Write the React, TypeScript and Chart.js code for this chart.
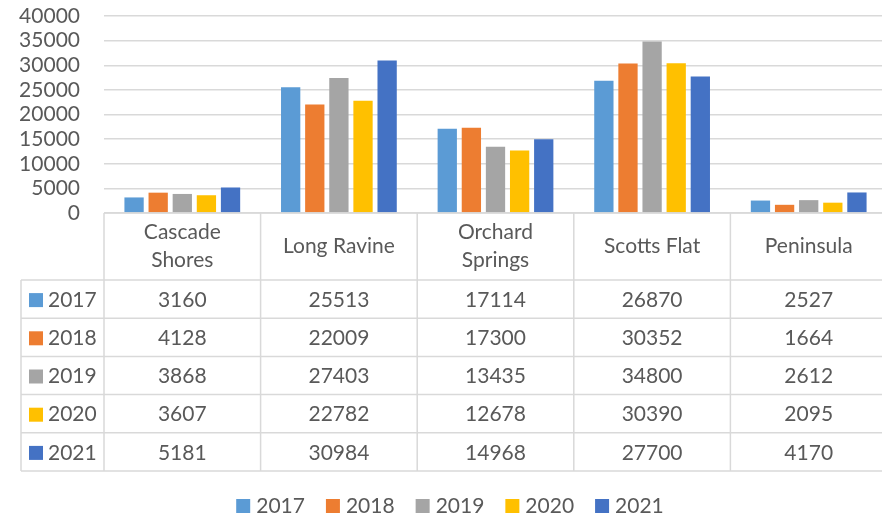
import React, { useEffect, useRef } from "react";
import { Chart, registerables } from "chart.js";

Chart.register(...registerables);

const categories: string[][] = [
  ["Cascade", "Shores"],
  ["Long Ravine"],
  ["Orchard", "Springs"],
  ["Scotts Flat"],
  ["Peninsula"],
];
const years = ["2017", "2018", "2019", "2020", "2021"];
const values2017 = [3160, 25513, 17114, 26870, 2527];
const values2018 = [4128, 22009, 17300, 30352, 1664];
const values2019 = [3868, 27403, 13435, 34800, 2612];
const values2020 = [3607, 22782, 12678, 30390, 2095];
const values2021 = [5181, 30984, 14968, 27700, 4170];
const seriesValues = [values2017, values2018, values2019, values2020, values2021];
const colors = ["#5B9BD5", "#ED7D31", "#A5A5A5", "#FFC000", "#4472C4"];
const yMin = 0;
const yMax = 40000;
const yStep = 5000;

const FONT = "21px Lato";
const TEXT = "#595959";
const LINE = "#d9d9d9";

const tablePlugin = {
  id: "dataTable",
  afterDraw(chart: any) {
    const ctx = chart.ctx as CanvasRenderingContext2D;
    const area = chart.chartArea;
    const xs = chart.scales.x;
    const n = categories.length;
    const catW = (area.right - area.left) / n;
    const top = area.bottom;
    const headerH = 67;
    const rowH = 38.2;
    const tableLeft = 21;
    const bodyTop = top + headerH;
    const bottom = bodyTop + rowH * years.length;
    const right = area.right;

    ctx.save();
    ctx.strokeStyle = LINE;
    ctx.lineWidth = 1.5;
    const line = (x1: number, y1: number, x2: number, y2: number) => {
      ctx.beginPath();
      ctx.moveTo(x1, y1);
      ctx.lineTo(x2, y2);
      ctx.stroke();
    };
    line(area.left, top, right, top);
    for (let i = 0; i <= years.length; i++) {
      const y = bodyTop + i * rowH;
      line(tableLeft, y, right, y);
    }
    for (let k = 0; k < n; k++) {
      const c = xs.getPixelForValue(k);
      line(c - catW / 2, top, c - catW / 2, bottom);
      if (k === n - 1) line(c + catW / 2, top, c + catW / 2, bottom);
    }
    line(tableLeft, bodyTop, tableLeft, bottom);

    ctx.font = FONT;
    ctx.fillStyle = TEXT;
    ctx.textAlign = "center";
    ctx.textBaseline = "middle";
    // header
    for (let k = 0; k < n; k++) {
      const c = xs.getPixelForValue(k);
      const lines = categories[k];
      const lh = 28;
      const cy = top + headerH / 2;
      lines.forEach((t, j) => {
        ctx.fillText(t, c, cy + (j - (lines.length - 1) / 2) * lh);
      });
    }
    // body
    for (let i = 0; i < years.length; i++) {
      const cy = bodyTop + i * rowH + rowH / 2 + 1;
      ctx.fillStyle = colors[i];
      ctx.fillRect(29, cy - 7, 14, 14);
      ctx.fillStyle = TEXT;
      ctx.textAlign = "left";
      ctx.fillText(years[i], 48, cy);
      ctx.textAlign = "center";
      for (let k = 0; k < n; k++) {
        ctx.fillText(String(seriesValues[i][k]), xs.getPixelForValue(k), cy);
      }
    }

    // legend
    const box = 14;
    const gap = 6;
    const spacing = 21;
    const widths = years.map((y) => box + gap + ctx.measureText(y).width);
    const total = widths.reduce((a, b) => a + b, 0) + spacing * (years.length - 1);
    let lx = 450 - total / 2;
    const ly = 506;
    ctx.textAlign = "left";
    years.forEach((y, i) => {
      ctx.fillStyle = colors[i];
      ctx.fillRect(lx, ly - box / 2, box, box);
      ctx.fillStyle = TEXT;
      ctx.fillText(y, lx + box + gap, ly);
      lx += widths[i] + spacing;
    });
    ctx.restore();
  },
};

export default function App() {
  const ref = useRef<HTMLCanvasElement | null>(null);
  useEffect(() => {
    if (!ref.current) return;
    const chart = new Chart(ref.current, {
      type: "bar",
      data: {
        labels: categories.map((c) => c.join(" ")),
        datasets: years.map((y, i) => ({
          label: y,
          data: seriesValues[i],
          backgroundColor: colors[i],
          borderWidth: 0,
          categoryPercentage: 0.77,
          barPercentage: 0.8,
        })),
      },
      options: {
        responsive: false,
        animation: false,
        devicePixelRatio: 1,
        layout: { padding: { top: 16, left: 0, right: 0, bottom: 306 } },
        plugins: { legend: { display: false }, tooltip: { enabled: false } },
        scales: {
          x: {
            display: false,
          },
          y: {
            min: yMin,
            max: yMax,
            afterBuildTicks: (s: any) => {
              const t = [];
              for (let v = yMin; v <= yMax; v += yStep) t.push({ value: v });
              s.ticks = t;
            },
            ticks: {
              stepSize: yStep,
              autoSkip: false,
              padding: 24,
              color: TEXT,
              font: { family: "Lato", size: 21 },
              callback: (v: any) => String(v),
            },
            grid: { color: LINE, lineWidth: 1.5, drawTicks: false },
            border: { display: false },
            afterFit: (s: any) => {
              s.width = 104;
              s.paddingTop = 0;
              s.paddingBottom = 0;
            },
          },
        },
      },
      plugins: [tablePlugin],
    });
    return () => chart.destroy();
  }, []);
  return (
    <div
      style={{
        position: "fixed",
        left: 0,
        top: 0,
        width: 882,
        height: 519,
        overflow: "hidden",
        background: "#fff",
      }}
    >
      <canvas ref={ref} width={887} height={519} style={{ display: "block" }} />
    </div>
  );
}
